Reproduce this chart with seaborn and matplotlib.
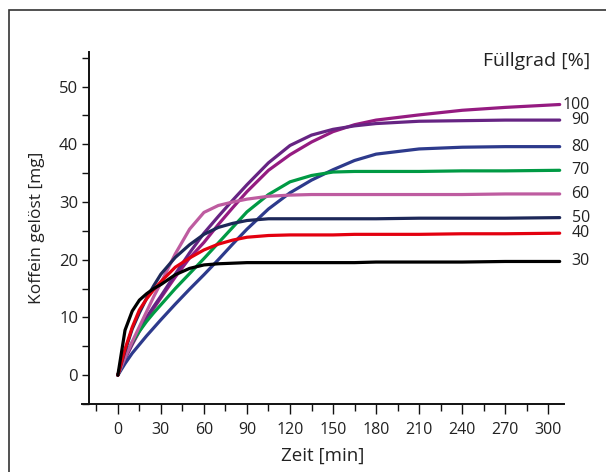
import numpy as np
import pandas as pd
import seaborn as sns
from matplotlib import pyplot as plt
from matplotlib.patches import Rectangle
from matplotlib.ticker import MultipleLocator

# Zeitpunkte [min]
zeit = [0, 5, 10, 15, 20, 25, 30, 40, 50, 60, 70, 80, 90, 105, 120,
        135, 150, 165, 180, 210, 240, 270, 308]

# Koffein gelöst [mg] je Füllgrad [%]
fg_30 = [0, 7.8, 11.1, 13.0, 14.1, 15.0, 15.7, 17.4, 18.5, 19.1, 19.3, 19.4,
         19.5, 19.5, 19.5, 19.5, 19.5, 19.5, 19.6, 19.6, 19.6, 19.7, 19.7]
fg_40 = [0, 4.5, 8.3, 11.3, 13.2, 14.8, 16.2, 18.7, 20.3, 21.7, 22.7, 23.4,
         23.9, 24.2, 24.3, 24.3, 24.3, 24.4, 24.4, 24.4, 24.5, 24.5, 24.6]
fg_50 = [0, 4.2, 8.0, 10.8, 13.3, 15.5, 17.5, 20.4, 22.6, 24.4, 25.6, 26.3,
         26.8, 27.1, 27.1, 27.1, 27.1, 27.1, 27.1, 27.2, 27.2, 27.2, 27.3]
fg_60 = [0, 3.0, 5.8, 8.4, 11.0, 13.6, 16.0, 21.0, 25.3, 28.2, 29.4, 30.0,
         30.5, 31.0, 31.2, 31.3, 31.3, 31.3, 31.3, 31.3, 31.3, 31.4, 31.4]
fg_70 = [0, 3.2, 5.7, 7.6, 9.3, 10.8, 12.2, 15.0, 17.6, 20.2, 22.9, 25.6,
         28.3, 31.3, 33.5, 34.6, 35.2, 35.3, 35.3, 35.3, 35.4, 35.4, 35.5]
fg_80 = [0, 2.0, 3.8, 5.3, 6.8, 8.2, 9.6, 12.3, 14.9, 17.4, 20.0, 22.7,
         25.3, 28.8, 31.6, 33.8, 35.6, 37.2, 38.3, 39.2, 39.5, 39.6, 39.6]
fg_90 = [0, 2.9, 5.5, 7.9, 10.0, 11.9, 13.7, 17.5, 21.2, 24.6, 27.5, 30.3,
         33.0, 36.8, 39.8, 41.6, 42.6, 43.2, 43.6, 44.0, 44.1, 44.2, 44.2]
fg_100 = [0, 2.8, 5.3, 7.6, 9.7, 11.6, 13.4, 17.0, 20.3, 23.0, 26.1, 29.0,
          31.8, 35.5, 38.2, 40.4, 42.2, 43.4, 44.2, 45.1, 45.9, 46.4, 46.9]

fuellgrade = [30, 40, 50, 60, 70, 80, 90, 100]
serien = [fg_30, fg_40, fg_50, fg_60, fg_70, fg_80, fg_90, fg_100]
farben = ['#000000', '#E3000F', '#1D2859', '#BE5CA0',
          '#009A44', '#2D3A8C', '#662483', '#951B81']

df = pd.concat([pd.DataFrame({'zeit': zeit, 'koffein': s, 'fuellgrad': f})
                for f, s in zip(fuellgrade, serien)], ignore_index=True)

sns.set_style('ticks')
plt.rcParams['font.family'] = ['Open Sans', 'DejaVu Sans']
textfarbe = '#222222'

fig = plt.figure(figsize=(6.06, 4.72), dpi=100)
ax = fig.add_axes([82 / 606, 68 / 472, 482 / 606, 352 / 472])

sns.lineplot(data=df, x='zeit', y='koffein', hue='fuellgrad',
             palette=dict(zip(fuellgrade, farben)), hue_order=fuellgrade[::-1],
             linewidth=2.3, legend=False, ax=ax, sort=False)

ax.set_xlim(-25, 311)
ax.set_ylim(-5, 56)
ax.spines['left'].set_position(('data', -20))
ax.spines['right'].set_visible(False)
ax.spines['top'].set_visible(False)
for sp in ['left', 'bottom']:
    ax.spines[sp].set_linewidth(1.4)
    ax.spines[sp].set_color('#111111')

ax.set_xticks(np.arange(0, 301, 30))
ax.xaxis.set_minor_locator(MultipleLocator(15))
ax.set_yticks(np.arange(0, 51, 10))
ax.yaxis.set_minor_locator(MultipleLocator(5))
ax.tick_params(axis='x', which='major', length=7, width=1, colors='#111111',
               labelsize=11.5, labelcolor=textfarbe, pad=6)
ax.tick_params(axis='x', which='minor', length=5, width=1, colors='#111111')
ax.tick_params(axis='y', which='both', length=5, width=1, colors='#111111',
               labelsize=12, labelcolor=textfarbe, pad=3)

ax.set_xlabel('Zeit [min]', fontsize=13.5, color=textfarbe, labelpad=6)
ax.set_ylabel('Koffein gelöst [mg]', fontsize=12.5, color=textfarbe, labelpad=10)

for f, s in zip(fuellgrade, serien):
    ax.text(329, s[-1], str(f), ha='right', va='center', fontsize=11.5,
            color=textfarbe, clip_on=False)
ax.text(329.5, 54.4, 'Füllgrad [%]', ha='right', va='center', fontsize=14,
        color=textfarbe, clip_on=False)

fig.add_artist(Rectangle((9 / 606, -0.1), 1.2, 1.1 - 10 / 472, fill=False,
                         edgecolor='#333333', linewidth=1.2,
                         transform=fig.transFigure))

fig.savefig('out.png', dpi=100)
